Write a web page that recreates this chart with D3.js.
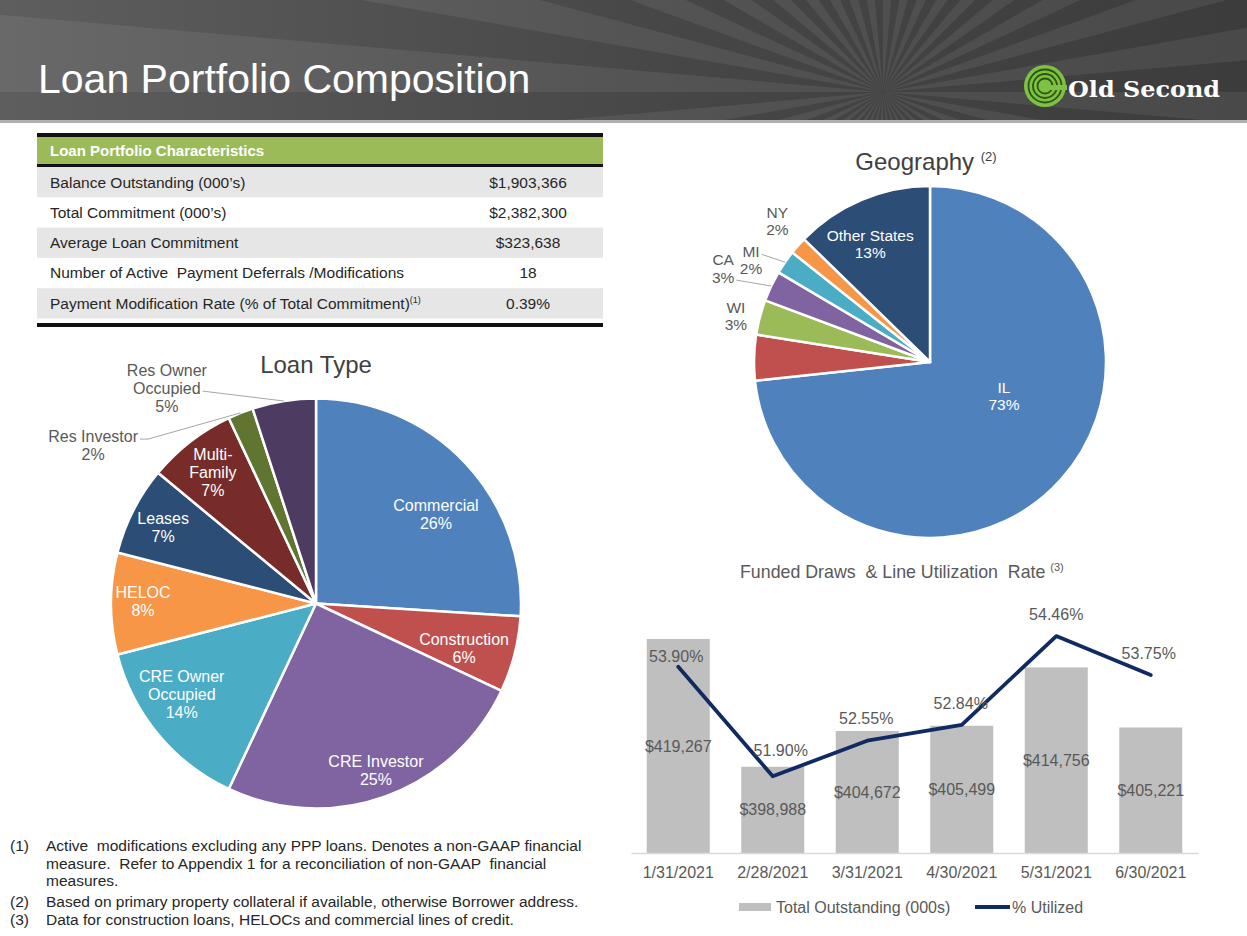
<!DOCTYPE html>
<html><head><meta charset="utf-8">
<script src="https://cdn.jsdelivr.net/npm/d3@7"></script>
<style>
body{margin:0;background:#fff}
svg{display:block}
text{font-family:"Liberation Sans",Arial,sans-serif;white-space:pre}
</style>
</head><body><svg id="c" width="1247" height="936"></svg>
<script>
// ---------------- DATA ----------------
const pageTitle = "Loan Portfolio Composition";
const tableHeader = "Loan Portfolio Characteristics";
const tableRows = ["Balance Outstanding (000’s)", "Total Commitment (000’s)", "Average Loan Commitment",
  "Number of Active  Payment Deferrals /Modifications", "Payment Modification Rate (% of Total Commitment)"];
const tableRowNotes = ["", "", "", "", "(1)"];
const tableValues = ["$1,903,366", "$2,382,300", "$323,638", "18", "0.39%"];

const loanTypes = ["Commercial", "Construction", "CRE Investor", "CRE Owner Occupied", "HELOC",
  "Leases", "Multi-Family", "Res Investor", "Res Owner Occupied"];
const loanLabelLines = [["Commercial"], ["Construction"], ["CRE Investor"], ["CRE Owner", "Occupied"], ["HELOC"],
  ["Leases"], ["Multi-", "Family"], ["Res Investor"], ["Res Owner", "Occupied"]];
const loanShares = [26, 6, 25, 14, 8, 7, 7, 2, 5];
const loanColors = ["#4F81BD", "#C0504D", "#8064A2", "#4BACC6", "#F79646", "#2C4D75", "#772C2A", "#5F7530", "#4D3B62"];

const geoStates = ["IL", "IN", "WI", "CA", "MI", "NY", "Other States"];
const geoLabelShown = [true, false, true, true, true, true, true];
const geoShares = [73.3, 4.2, 3.2, 2.8, 2.2, 1.6, 12.7];
const geoColors = ["#4F81BD", "#C0504D", "#9BBB59", "#8064A2", "#4BACC6", "#F79646", "#2C4D75"];

const drawDates = ["1/31/2021", "2/28/2021", "3/31/2021", "4/30/2021", "5/31/2021", "6/30/2021"];
const drawOutstanding = [419267, 398988, 404672, 405499, 414756, 405221];
const drawUtilized = [53.90, 51.90, 52.55, 52.84, 54.46, 53.75];
const seriesNames = ["Total Outstanding (000s)", "% Utilized"];

const footnotes = [
  ["(1)", "Active  modifications excluding any PPP loans. Denotes a non-GAAP financial"],
  ["", "measure.  Refer to Appendix 1 for a reconciliation of non-GAAP  financial"],
  ["", "measures."],
  ["(2)", "Based on primary property collateral if available, otherwise Borrower address."],
  ["(3)", "Data for construction loans, HELOCs and commercial lines of credit."]
];

// ---------------- LAYOUT ----------------
const loanLabelLayout = [
  {rf: 0.73, da: 6.5}, {rf: 0.754, da: 2.3}, {rf: 0.863, da: 0}, {rf: 0.79, da: 5.6}, {rf: 0.844, da: 0.8},
  {rf: 0.834, da: -0.4}, {rf: 0.815, da: -0.3},
  {rf: 1.334, da: -33, out: true, leaderLine: 0, stub: 8},
  {rf: 1.278, da: -25.7, out: true, leaderLine: 1, stub: 0}
];
const geoLabelLayout = [
  {rf: 0.463, da: -17.2}, null, {rf: 1.133, da: -1.5, out: true},
  {rf: 1.29, da: -1.2, out: true, leaderLine: 1, stub: 0},
  {rf: 1.17, da: -4.9, out: true, leaderLine: 0, stub: 0},
  {rf: 1.18, da: 1.3, out: true}, {rf: 0.752, da: -4}
];
const pctLabelNudge = [[-2, -10], [8, -26], [-1, -22], [-1, -21], [0, -22], [-2, -22]];

const svg = d3.select("#c");
const defs = svg.append("defs");
const textGray = "#595959";

// ---------------- BANNER ----------------
const bg = defs.append("linearGradient").attr("id", "bannerGrad").attr("x1", 0).attr("x2", 1).attr("y1", 0).attr("y2", 0);
bg.append("stop").attr("offset", 0).attr("stop-color", "#5e5e5e");
bg.append("stop").attr("offset", 0.55).attr("stop-color", "#464646");
bg.append("stop").attr("offset", 1).attr("stop-color", "#3c3c3c");
svg.append("rect").attr("width", 1247).attr("height", 120).attr("fill", "url(#bannerGrad)");
defs.append("clipPath").attr("id", "bannerClip").append("rect").attr("width", 1247).attr("height", 120);
const rays = svg.append("g").attr("clip-path", "url(#bannerClip)");
const rc = [883, 92];
d3.range(0, 72, 2).forEach(i => {
  const a0 = i * 5 * Math.PI / 180, a1 = (i + 1) * 5 * Math.PI / 180, R = 2200;
  rays.append("path")
    .attr("d", `M${rc[0]},${rc[1]}L${rc[0] + R * Math.cos(a0)},${rc[1] + R * Math.sin(a0)}L${rc[0] + R * Math.cos(a1)},${rc[1] + R * Math.sin(a1)}Z`)
    .attr("fill", "#fff").attr("opacity", 0.07);
});
svg.append("rect").attr("y", 120).attr("width", 1247).attr("height", 3).attr("fill", "#b0b0b0");
svg.append("text").attr("x", 38).attr("y", 93).attr("fill", "#fff").attr("font-size", 41).text(pageTitle);

// logo
const logo = svg.append("g").attr("transform", "translate(1045,86)");
logo.append("circle").attr("r", 21).attr("fill", "#7dc242");
[16.5, 12, 7.5].forEach(r => logo.append("circle").attr("r", r).attr("fill", "none").attr("stroke", "#2f5413").attr("stroke-width", 1.8));
logo.append("rect").attr("x", 2).attr("y", -1).attr("width", 20).attr("height", 5).attr("fill", "#7dc242");
svg.append("text").attr("x", 1068).attr("y", 97).attr("fill", "#fff")
  .style("font-family", "'DejaVu Serif','Liberation Serif',serif").attr("font-weight", "bold").attr("font-size", 23)
  .attr("textLength", 152).attr("lengthAdjust", "spacingAndGlyphs").text("Old Second");

// ---------------- TABLE ----------------
const T = {x0: 37, x1: 603, valX: 528, rowTop: 167, rowH: 30.3};
svg.append("rect").attr("x", T.x0).attr("y", 133).attr("width", T.x1 - T.x0).attr("height", 4).attr("fill", "#111");
svg.append("rect").attr("x", T.x0).attr("y", 137).attr("width", T.x1 - T.x0).attr("height", 27).attr("fill", "#9BBB59");
svg.append("rect").attr("x", T.x0).attr("y", 164).attr("width", T.x1 - T.x0).attr("height", 3).attr("fill", "#111");
svg.append("text").attr("x", 50).attr("y", 151).attr("dy", "0.35em").attr("fill", "#fff")
  .attr("font-weight", "bold").attr("font-size", 15).text(tableHeader);
tableRows.forEach((lab, i) => {
  const y = T.rowTop + i * T.rowH;
  if (i % 2 === 0) svg.append("rect").attr("x", T.x0).attr("y", y).attr("width", T.x1 - T.x0).attr("height", T.rowH).attr("fill", "#E6E6E6");
  const t = svg.append("text").attr("x", 50).attr("y", y + T.rowH / 2).attr("dy", "0.35em")
    .attr("fill", "#262626").attr("font-size", 15.5);
  t.append("tspan").text(lab);
  if (tableRowNotes[i]) t.append("tspan").attr("font-size", 9).attr("dy", "-0.6em").text(tableRowNotes[i]);
  svg.append("text").attr("x", T.valX).attr("y", y + T.rowH / 2).attr("dy", "0.35em").attr("text-anchor", "middle")
    .attr("fill", "#262626").attr("font-size", 15.5).text(tableValues[i]);
});
svg.append("rect").attr("x", T.x0).attr("y", 323).attr("width", T.x1 - T.x0).attr("height", 4).attr("fill", "#111");

// ---------------- PIE HELPER ----------------
function polar(cx, cy, r, deg) {
  const a = deg * Math.PI / 180;
  return [cx + r * Math.sin(a), cy - r * Math.cos(a)];
}
function drawPie(opt) {
  const {cx, cy, r, values, colors, lines, layout, fontSize, lineH, shown} = opt;
  const g = svg.append("g");
  const arcs = d3.pie().sort(null).value(d => d)(values);
  const arc = d3.arc().innerRadius(0).outerRadius(r);
  g.selectAll("path.slice").data(arcs).join("path").attr("class", "slice")
    .attr("transform", `translate(${cx},${cy})`)
    .attr("d", arc).attr("fill", (d, i) => colors[i])
    .attr("stroke", "#fff").attr("stroke-width", 2.5).attr("stroke-linejoin", "round");
  arcs.forEach((a, i) => {
    const L = layout[i];
    if (!L || (shown && !shown[i])) return;
    const midDeg = (a.startAngle + a.endAngle) / 2 * 180 / Math.PI;
    const [lx, ly] = polar(cx, cy, r * L.rf, midDeg + L.da);
    const ls = lines[i].concat([Math.round(values[i]) + "%"]);
    const txt = [];
    ls.forEach((s, k) => {
      const t = g.append("text").attr("x", lx).attr("y", ly + (k - (ls.length - 1) / 2) * lineH)
        .attr("dy", "0.35em").attr("text-anchor", "middle").attr("font-size", fontSize)
        .attr("fill", L.out ? textGray : "#fff").text(s);
      txt.push(t);
    });
    if (L.leaderLine !== undefined) {
      const t = txt[L.leaderLine];
      const w = t.node().getComputedTextLength();
      const sx = lx + w / 2 + 2, sy = ly + (L.leaderLine - (ls.length - 1) / 2) * lineH + 3;
      const [ex, ey] = polar(cx, cy, r, midDeg);
      const pts = [[sx, sy]];
      if (L.stub) pts.push([sx + L.stub, sy]);
      pts.push([ex, ey]);
      g.append("path").attr("d", d3.line()(pts)).attr("fill", "none").attr("stroke", "#A6A6A6").attr("stroke-width", 1);
    }
  });
}

// ---------------- LOAN TYPE PIE ----------------
svg.append("text").attr("x", 316).attr("y", 373).attr("text-anchor", "middle").attr("font-size", 24)
  .attr("fill", "#404040").text("Loan Type");
drawPie({cx: 316, cy: 603.5, r: 205, values: loanShares, colors: loanColors, lines: loanLabelLines,
  layout: loanLabelLayout, fontSize: 16, lineH: 18});

// ---------------- GEOGRAPHY PIE ----------------
const gt = svg.append("text").attr("x", 926).attr("y", 170).attr("text-anchor", "middle").attr("font-size", 24).attr("fill", "#404040");
gt.append("tspan").text("Geography ");
gt.append("tspan").attr("font-size", 13).attr("dy", -9).text("(2)");
drawPie({cx: 930, cy: 362, r: 176, values: geoShares, colors: geoColors, lines: geoStates.map(s => [s]),
  layout: geoLabelLayout, fontSize: 15.5, lineH: 17.5, shown: geoLabelShown});

// ---------------- COMBO CHART ----------------
const plot = {left: 631, right: 1198, top: 601, bottom: 853};
const x = d3.scaleBand().domain(drawDates).range([plot.left, plot.right]).paddingInner(1 / 3).paddingOuter(1 / 6);
const yBar = d3.scaleLinear().domain([385300, 425300]).range([plot.bottom, plot.top]);
const yLine = d3.scaleLinear().domain([50.5, 55.1]).range([plot.bottom, plot.top]);
const fmtMoney = v => "$" + d3.format(",")(v);

const ct = svg.append("text").attr("x", 740).attr("y", 578).attr("font-size", 17.8).attr("fill", textGray);
ct.append("tspan").text("Funded Draws  & Line Utilization  Rate ");
ct.append("tspan").attr("font-size", 11).attr("dy", -7).text("(3)");

const cg = svg.append("g");
cg.selectAll("rect.bar").data(drawOutstanding).join("rect").attr("class", "bar")
  .attr("x", (d, i) => x(drawDates[i])).attr("width", x.bandwidth())
  .attr("y", d => yBar(d)).attr("height", d => plot.bottom - yBar(d)).attr("fill", "#BFBFBF");

const axis = cg.append("g").attr("transform", `translate(0,${plot.bottom})`)
  .call(d3.axisBottom(x).tickSize(0).tickSizeOuter(0).tickPadding(14));
axis.select(".domain").attr("stroke", "#D9D9D9").attr("stroke-width", 1.5);
axis.selectAll("text").attr("font-size", 16).attr("fill", textGray).style("font-family", "'Liberation Sans',Arial,sans-serif");

cg.selectAll("text.barlab").data(drawOutstanding).join("text").attr("class", "barlab")
  .attr("x", (d, i) => x(drawDates[i]) + x.bandwidth() / 2)
  .attr("y", d => (yBar(d) + plot.bottom) / 2).attr("dy", "0.35em").attr("text-anchor", "middle")
  .attr("font-size", 16).attr("fill", textGray).text(fmtMoney);

const line = d3.line().x((d, i) => x(drawDates[i]) + x.bandwidth() / 2).y(d => yLine(d));
cg.append("path").attr("d", line(drawUtilized)).attr("fill", "none").attr("stroke", "#112B62")
  .attr("stroke-width", 3.8).attr("stroke-linejoin", "round").attr("stroke-linecap", "round");

cg.selectAll("text.pctlab").data(drawUtilized).join("text").attr("class", "pctlab")
  .attr("x", (d, i) => x(drawDates[i]) + x.bandwidth() / 2 + pctLabelNudge[i][0])
  .attr("y", (d, i) => yLine(d) + pctLabelNudge[i][1]).attr("dy", "0.35em").attr("text-anchor", "middle")
  .attr("font-size", 16).attr("fill", textGray).text(d => d.toFixed(2) + "%");

// legend
const lg = svg.append("g");
lg.append("rect").attr("x", 739).attr("y", 903).attr("width", 32).attr("height", 8).attr("fill", "#BFBFBF");
lg.append("text").attr("x", 776).attr("y", 907).attr("dy", "0.35em").attr("font-size", 16).attr("fill", textGray).text(seriesNames[0]);
lg.append("line").attr("x1", 975).attr("x2", 1010).attr("y1", 907).attr("y2", 907).attr("stroke", "#112B62").attr("stroke-width", 3.8);
lg.append("text").attr("x", 1012).attr("y", 907).attr("dy", "0.35em").attr("font-size", 16).attr("fill", textGray).text(seriesNames[1]);

// ---------------- FOOTNOTES ----------------
const fnY = [846, 863.5, 881, 902, 919.5];
footnotes.forEach((f, i) => {
  if (f[0]) svg.append("text").attr("x", 10).attr("y", fnY[i]).attr("dy", "0.35em").attr("font-size", 15.5).attr("fill", "#262626").text(f[0]);
  svg.append("text").attr("x", 46).attr("y", fnY[i]).attr("dy", "0.35em").attr("font-size", 15.5).attr("fill", "#262626").text(f[1]);
});
</script>
</body></html>
